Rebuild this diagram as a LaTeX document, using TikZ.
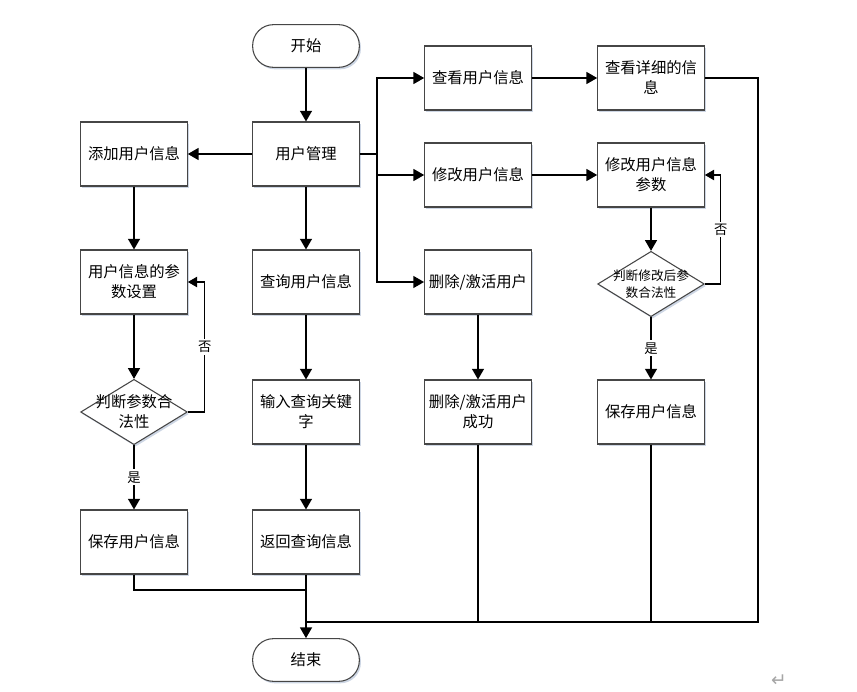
\documentclass[tikz,border=0pt]{standalone}
\usepackage{fontspec}
\newfontfamily\cjk{Noto Sans CJK SC}
\newfontfamily\symfont{DejaVu Sans}
\usepackage{tikz}
\usetikzlibrary{shapes}
\usetikzlibrary{arrows}
\usetikzlibrary{shadows}
\definecolor{edgegray}{RGB}{70,70,70}
\definecolor{shadowblue}{RGB}{205,214,228}
\tikzstyle{box}=[rectangle,draw=edgegray,fill=white,line width=0.8pt,minimum width=80pt,minimum height=48pt,align=center,font=\cjk\fontsize{11.5}{15}\selectfont,drop shadow={shadow xshift=1.2pt,shadow yshift=-1.5pt,fill=shadowblue,opacity=1}]
\tikzstyle{term}=[box,rounded corners=15.5pt,minimum height=32pt]
\tikzstyle{decide}=[diamond,draw=edgegray,fill=white,line width=0.8pt,minimum width=80pt,minimum height=49pt,inner sep=0pt,drop shadow={shadow xshift=1.2pt,shadow yshift=-1.5pt,fill=shadowblue,opacity=1}]
\tikzstyle{dtext}=[align=center,inner sep=0pt,font=\cjk\fontsize{11.5}{15}\selectfont]
\tikzstyle{dsmall}=[align=center,inner sep=0pt,font=\cjk\fontsize{9.5}{12.5}\selectfont]
\tikzstyle{arrow}=[->,>=triangle 60,line width=1.2pt]
\tikzstyle{thin}=[line width=0.9pt]
\tikzstyle{tag}=[fill=white,inner sep=1.5pt,font=\cjk\fontsize{10}{12}\selectfont]

\begin{document}
\begin{tikzpicture}[x=0.75pt,y=-0.75pt]
      \useasboundingbox (0,0) rectangle (857,692);
      % middle column
      \node[term] at (306,46) (start) {开始};
      \node[box] at (306,154) (mgmt) {用户管理};
      \node[box] at (306,282) (query) {查询用户信息};
      \node[box] at (306,412) (input) {输入查询关键\\字};
      \node[box] at (306,542) (ret) {返回查询信息};
      \node[term] at (306,660) (stop) {结束};
      % left column
      \node[box] at (134,154) (add) {添加用户信息};
      \node[box] at (134,282) (setp) {用户信息的参\\数设置};
      \node[decide,label={[dtext]center:判断参数合\\法性}] at (134,412) (chk1) {};
      \node[box] at (134,542) (save1) {保存用户信息};
      % right columns
      \node[box] at (478,78) (view) {查看用户信息};
      \node[box] at (651,78) (detail) {查看详细的信\\息};
      \node[box] at (478,175) (modify) {修改用户信息};
      \node[box] at (651,175) (modp) {修改用户信息\\参数};
      \node[box] at (478,282) (del) {删除/激活用户};
      \node[box] at (478,412) (delok) {删除/激活用户\\成功};
      \node[decide,label={[dsmall]center:判断修改后参\\数合法性}] at (651,284) (chk2) {};
      \node[box] at (651,412) (save2) {保存用户信息};
      \node[text=gray!70,font=\symfont\fontsize{14}{15}\selectfont] at (779,681) (mark) {↵};
      \coordinate (fork) at (377,154);
      \coordinate (merge) at (306,590);
      \coordinate (join) at (306,622);
      \coordinate (rcorner) at (758,622);
      % arrows
      \draw[arrow] (start)--(mgmt);
      \draw[arrow] (mgmt)--(add);
      \draw[arrow] (add)--(setp);
      \draw[arrow] (setp)--(chk1);
      \draw[arrow] (chk1)--(save1) node[tag,midway] {是};
      \draw[arrow,thin] (chk1.east) -- ++(17,0) |- (setp.east) node[tag,pos=0.25] {否};
      \draw[arrow] (mgmt)--(query);
      \draw[arrow] (query)--(input);
      \draw[arrow] (input)--(ret);
      \draw[arrow] (ret)--(stop);
      \draw[line width=1.2pt] (mgmt.east)--(fork);
      \draw[arrow] (fork) |- (view);
      \draw[arrow] (fork) |- (modify);
      \draw[arrow] (fork) |- (del);
      \draw[arrow] (view)--(detail);
      \draw[arrow] (modify)--(modp);
      \draw[arrow] (del)--(delok);
      \draw[arrow] (modp)--(chk2);
      \draw[arrow] (chk2)--(save2) node[tag,midway] {是};
      \draw[arrow,thin] (chk2.east) -- ++(16,0) |- (modp.east) node[tag,pos=0.25] {否};
      \draw[thin] (save1.south) |- (merge);
      \draw[thin] (detail.east) -| (rcorner) -- (join);
      \draw[thin] (delok.south) -- (delok.south |- join);
      \draw[thin] (save2.south) -- (save2.south |- join);
    \end{tikzpicture}
\end{document}
